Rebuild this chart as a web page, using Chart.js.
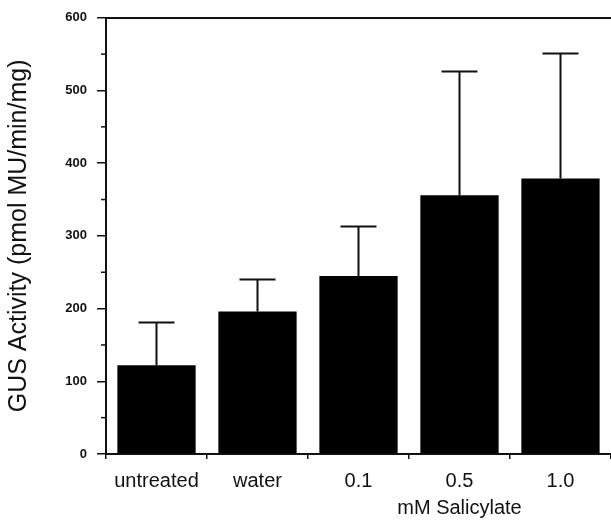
<!DOCTYPE html>
<html>
<head>
<meta charset="utf-8">
<script src="https://cdn.jsdelivr.net/npm/chart.js@4/dist/chart.umd.min.js"></script>
<style>
  html, body { margin: 0; padding: 0; background: #fff; }
  #wrap { width: 611px; height: 521px; position: relative; }
</style>
</head>
<body>
<div id="wrap"><canvas id="gusChart"></canvas></div>
<script>
// treatment groups, the 0.5 label carries the axis caption underneath it
const categories = ['untreated', 'water', '0.1', ['0.5', 'mM Salicylate'], '1.0'];
// mean GUS activity (pmol MU/min/mg)
const gusMeans = [122, 196, 245, 356, 379];
// upper end of each error bar
const gusUpper = [181, 240, 313, 526, 551];
const yTicks = [0, 100, 200, 300, 400, 500, 600];
const yMinorTicks = [50, 150, 250, 350, 450, 550];

const INK = '#111';
const FONT = "'Liberation Sans', Arial, Helvetica, sans-serif";

// draws the upward error bars and the short minor ticks on the y axis
const extrasPlugin = {
  id: 'extras',
  afterDatasetsDraw(chart) {
    const { ctx } = chart;
    const y = chart.scales.y;
    const meta = chart.getDatasetMeta(0);
    ctx.save();
    ctx.strokeStyle = INK;
    ctx.lineWidth = 2;
    meta.data.forEach((bar, i) => {
      const top = y.getPixelForValue(gusUpper[i]);
      ctx.beginPath();
      ctx.moveTo(bar.x, bar.y);
      ctx.lineTo(bar.x, top);
      ctx.moveTo(bar.x - 18, top);
      ctx.lineTo(bar.x + 18, top);
      ctx.stroke();
    });
    // minor ticks
    ctx.lineWidth = 1.5;
    yMinorTicks.forEach((v) => {
      const py = y.getPixelForValue(v);
      ctx.beginPath();
      ctx.moveTo(y.right - 5, py);
      ctx.lineTo(y.right, py);
      ctx.stroke();
    });
    ctx.restore();
  }
};

const ctx = document.getElementById('gusChart').getContext('2d');
const gusChart = new Chart(ctx, {
  type: 'bar',
  data: {
    labels: categories,
    datasets: [{
      data: gusMeans,
      backgroundColor: '#000',
      borderWidth: 0,
      barPercentage: 0.775,
      categoryPercentage: 1
    }]
  },
  options: {
    responsive: true,
    maintainAspectRatio: false,
    animation: false,
    events: [],
    layout: { padding: { top: 17, right: 0, bottom: 0, left: 0 } },
    plugins: {
      legend: { display: false },
      tooltip: { enabled: false },
      title: { display: false }
    },
    scales: {
      x: {
        position: 'bottom',
        afterFit(scale) { scale.height = 67; },
        grid: {
          display: true,
          drawOnChartArea: false,
          offset: true,
          tickLength: 5,
          color: INK,
          lineWidth: 1.5
        },
        border: { display: true, color: INK, width: 2 },
        ticks: {
          color: INK,
          padding: 9,
          maxRotation: 0,
          autoSkip: false,
          font: { family: FONT, size: 20, lineHeight: 1.35 }
        }
      },
      x2: {
        position: 'top',
        type: 'category',
        afterFit(scale) { scale.height = 0; },
        grid: { display: false },
        ticks: { display: false },
        border: { display: true, color: INK, width: 2 }
      },
      y: {
        min: 0,
        max: 600,
        afterFit(scale) { scale.width = 106; },
        afterBuildTicks(scale) { scale.ticks = yTicks.map((v) => ({ value: v })); },
        grid: {
          display: true,
          drawOnChartArea: false,
          tickLength: 9,
          color: INK,
          lineWidth: 1.5
        },
        border: { display: true, color: INK, width: 2 },
        ticks: {
          color: INK,
          padding: 10,
          font: { family: FONT, size: 13, weight: 'bold' }
        },
        title: {
          display: true,
          text: 'GUS Activity (pmol MU/min/mg)',
          color: INK,
          padding: { top: 4, bottom: 0 },
          font: { family: FONT, size: 25, lineHeight: 1.2 }
        }
      }
    }
  },
  plugins: [extrasPlugin]
});
</script>
</body>
</html>
